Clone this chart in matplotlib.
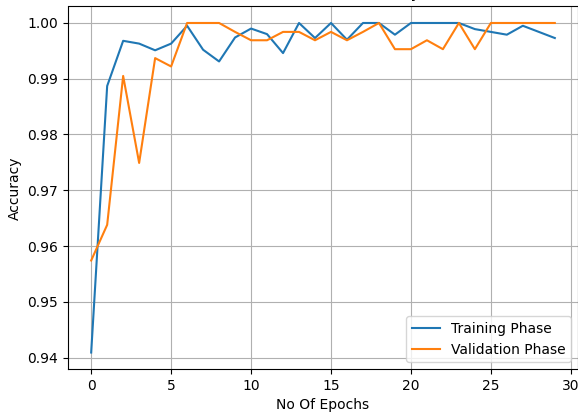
import matplotlib
matplotlib.use("Agg")
import matplotlib.pyplot as plt
import numpy as np

epochs = list(range(30))

train_acc = [0.9409, 0.9887, 0.9968, 0.9963, 0.9951, 0.9963, 0.9995, 0.9952, 0.9931, 0.9974,
             0.9990, 0.9980, 0.9946, 1.0000, 0.9973, 1.0000, 0.9970, 1.0000, 1.0000, 0.9979,
             1.0000, 1.0000, 1.0000, 1.0000, 0.9989, 0.9984, 0.9979, 0.9995, 0.9984, 0.9973]

val_acc = [0.9574, 0.9638, 0.9905, 0.9749, 0.9937, 0.9922, 1.0000, 1.0000, 1.0000, 0.9984,
           0.9969, 0.9969, 0.9984, 0.9984, 0.9969, 0.9984, 0.9969, 0.9984, 1.0000, 0.9953,
           0.9953, 0.9969, 0.9953, 1.0000, 0.9953, 1.0000, 1.0000, 1.0000, 1.0000, 1.0000]

fig = plt.figure(figsize=(5.78, 4.15), dpi=100)
ax = fig.add_axes([68 / 578, 46 / 415, 510 / 578, 362.5 / 415])

ax.plot(epochs, train_acc, label="Training Phase")
ax.plot(epochs, val_acc, label="Validation Phase")
# title sits mostly above the visible area, only the tail of the y shows
ax.set_title("Train and Test Accuracy", pad=7)
ax.set_xlabel("No Of Epochs")
ax.set_ylabel("Accuracy")
ax.grid(True)
ax.legend(loc="lower right")

fig.savefig("out.png", dpi=100)
